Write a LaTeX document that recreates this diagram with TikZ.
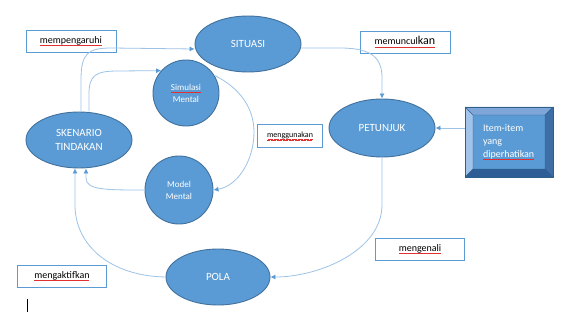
\documentclass[tikz,border=0pt]{standalone}
\usepackage{fontspec}
\setmainfont{Carlito}
\usetikzlibrary{shapes.geometric,arrows.meta,calc}
\definecolor{shapeblue}{HTML}{5B9BD5}
\definecolor{edgeblue}{HTML}{41719C}
\definecolor{linkblue}{HTML}{9DC3E6}
\definecolor{tipblue}{HTML}{5B9BD5}
\definecolor{bevtop}{HTML}{7EA6D8}
\definecolor{bevleft}{HTML}{A3C4EA}
\definecolor{bevright}{HTML}{3E6EA6}
\definecolor{bevbottom}{HTML}{2F5E96}
\definecolor{bevedge}{HTML}{2E5F8A}
\definecolor{spellred}{HTML}{E03030}
\newsavebox\ulbox
\newcommand\redul[1]{\sbox\ulbox{#1}\rlap{\textcolor{spellred}{\hbox to \wd\ulbox{\leaders\hbox{\rule[-2.6pt]{0.6pt}{0.35pt}\rule[-2.1pt]{0.6pt}{0.35pt}}\hfill}}}\usebox\ulbox}
\begin{document}
\begin{tikzpicture}[x=1pt,y=-1pt,
  oval/.style={ellipse,draw=edgeblue,fill=shapeblue,line width=0.9pt,text=white,inner sep=0,
    minimum width=106pt,minimum height=56pt,font=\fontsize{11}{14}\selectfont,align=center},
  disc/.style={circle,draw=edgeblue,fill=shapeblue,line width=0.9pt,text=white,inner sep=0,
    font=\fontsize{9}{12}\selectfont,align=center},
  tag/.style={rectangle,draw=shapeblue,fill=white,line width=0.8pt,minimum height=22pt,inner sep=0,
    font=\fontsize{10}{12}\selectfont},
  link/.style={draw=linkblue,line width=0.8pt,-{Latex[length=5pt,width=5pt,color=tipblue]}}]
\useasboundingbox[fill=white] (0,0) rectangle (567,318);

% main shapes
\node[oval] (sit) at (248,44) {SITUASI};
\node[oval] (sk) at (79,140) {SKENARIO\\TINDAKAN};
\node[oval,minimum height=58pt] (pet) at (382,128) {PETUNJUK};
\node[oval,minimum width=104pt] (pola) at (218,277) {POLA};
\node[disc,minimum size=66pt] (sim) at (186,93) {\redul{Simulasi}\\Mental};
\node[disc,minimum size=68pt] (model) at (179,190) {Model\\Mental};

% label boxes
\node[tag,minimum width=90pt] (mp) at (71,41) {\redul{mempengaruhi}};
\node[tag,minimum width=90pt] (mk) at (405,42) {\redul{memuncul{\fontsize{12}{12}\selectfont kan}}};
\node[tag,minimum width=65pt,minimum height=23pt,font=\fontsize{8}{10}\selectfont] (mg) at (290,136) {\redul{menggunakan}};
\node[tag,minimum width=89pt] (ma) at (62,276) {\redul{mengaktifkan}};
\node[tag,minimum width=89pt] (mn) at (420,249) {\redul{mengenali}};

% bevelled box
\fill[bevtop] (465,107) -- (553,107) -- (545,115) -- (473,115) -- cycle;
\fill[bevleft] (465,107) -- (473,115) -- (473,169) -- (465,177) -- cycle;
\fill[bevright] (553,107) -- (553,177) -- (545,169) -- (545,115) -- cycle;
\fill[bevbottom] (465,177) -- (553,177) -- (545,169) -- (473,169) -- cycle;
\fill[shapeblue] (473,115) rectangle (545,169);
\draw[bevedge,line width=0.4pt] (465,107) -- (473,115) (553,107) -- (545,115)
  (553,177) -- (545,169) (465,177) -- (473,169) (473,115) rectangle (545,169);
\node[rectangle,draw=bevedge,line width=0.8pt,minimum width=88pt,minimum height=70pt,inner sep=0,
  text=white,align=left,font=\fontsize{10}{13}\selectfont] (item) at (509,142)
  {\raisebox{2pt}{\parbox{52pt}{Item-item\\yang\\\redul{diperhatikan}}}};

% connectors
\draw[link] ([xshift=2pt]sk.north) -- (81,80) .. controls (81,53) and (88,48) .. (112,48) -- ([yshift=-5pt]sit.west);
\draw[link] ([xshift=10pt]sk.north) -- (89,94) .. controls (89,75) and (96,71) .. (118,71) -- (sim.138);
\draw[link] (sim.32) .. controls (240,88) and (254,108) .. (254,132) .. controls (254,160) and (238,186) .. (model.east);
\draw[link] ([yshift=-4pt]sit.east) -- (340,48) .. controls (372,48) and (382,58) .. (382,78) -- (pet.north);
\draw[link] (item.west |- pet.east) -- (pet.east);
\draw[link] (pet.south) -- (382,205) .. controls (382,250) and (320,277) .. (pola.east);
\draw[link] (pola.west) .. controls (110,276) and (75,245) .. (75,205) -- ([xshift=-4pt]sk.south);
\draw[link] (model.west) .. controls (105,190) and (86,190) .. (86,178) -- ([xshift=7pt]sk.south);

% text cursor
\draw[black,line width=0.6pt] (27,299) -- (27,312);
\end{tikzpicture}
\end{document}
